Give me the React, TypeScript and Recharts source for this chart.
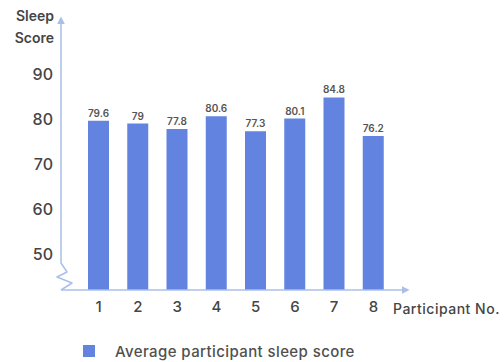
import { Bar, BarChart, LabelList, Legend, XAxis, YAxis, usePlotArea } from "recharts";

// Participant sleep scores, y axis broken below 50.

const participants = ["1", "2", "3", "4", "5", "6", "7", "8"];
const sleepScores = [79.6, 79, 77.8, 80.6, 77.3, 80.1, 84.8, 76.2];
const yTicks = [50, 60, 70, 80, 90];

const BLUE = "#6284e0";
const AXIS_BLUE = "#a9bfea";
const TEXT = "#454545";
const FONT = "Inter, 'Noto Sans', sans-serif";

const data = participants.map((p, i) => ({ participant: p, score: sleepScores[i] }));

// y axis drawn by hand so it can carry the zigzag break and the arrow
function BrokenYAxis() {
  const area = usePlotArea();
  if (!area) return null;
  const x = area.x;
  const bottom = area.y + area.height;
  const zig = [
    [0, 0],
    [11, -7],
    [-4, -13],
    [6, -18],
    [0, -27],
  ];
  const d =
    zig.map(([dx, dy], i) => `${i ? "L" : "M"}${x + dx},${bottom + dy}`).join(" ") +
    ` L${x},${area.y + 2}`;
  return (
    <path
      d={d}
      fill="none"
      stroke={AXIS_BLUE}
      strokeWidth={1.5}
      strokeLinejoin="round"
      markerEnd="url(#axisArrow)"
    />
  );
}

function YTitle(props: any) {
  const vb = props.viewBox || {};
  const x = vb.x + vb.width - 7;
  return (
    <text x={x} y={vb.y} textAnchor="end" fill={TEXT} fontSize={14} fontWeight={600} fontFamily={FONT}>
      <tspan x={x} dy={1}>Sleep</tspan>
      <tspan x={x} dy={22}>Score</tspan>
    </text>
  );
}

function XTitle(props: any) {
  const vb = props.viewBox || {};
  return (
    <text
      x={vb.x + vb.width - 11}
      y={vb.y + 24}
      fill={TEXT}
      fontSize={14}
      fontWeight={500}
      letterSpacing={0.5}
      fontFamily={FONT}
    >
      Participant No.
    </text>
  );
}

function LegendBox() {
  return (
    <div
      style={{
        display: "flex",
        alignItems: "center",
        height: 22,
        paddingLeft: 62,
        fontFamily: FONT,
        fontSize: 15,
        fontWeight: 500,
        letterSpacing: 0.4,
        color: "#505050",
      }}
    >
      <span style={{ width: 12, height: 12, background: BLUE, marginRight: 20 }} />
      <span>Average participant sleep score</span>
    </div>
  );
}

export default function App() {
  return (
    <div style={{ position: "absolute", left: 0, top: 0, background: "#fff" }}>
      <BarChart
        width={504}
        height={362}
        data={data}
        margin={{ top: 20, right: 100, left: 21, bottom: 0 }}
      >
        <defs>
          <marker
            id="axisArrow"
            viewBox="0 0 10 10"
            refX="3"
            refY="5"
            markerWidth="8"
            markerHeight="8"
            markerUnits="userSpaceOnUse"
            orient="auto-start-reverse"
          >
            <path d="M0,0 L10,5 L0,10 z" fill={AXIS_BLUE} />
          </marker>
        </defs>
        <XAxis
          dataKey="participant"
          height={50}
          padding={{ left: 18, right: 11 }}
          tickLine={false}
          axisLine={{ stroke: AXIS_BLUE, strokeWidth: 1.5, markerEnd: "url(#axisArrow)" } as any}
          tick={{ fill: TEXT, fontSize: 15, fontWeight: 500, fontFamily: FONT, dy: 3 } as any}
          label={<XTitle />}
        />
        <YAxis
          width={40}
          domain={[42, 102]}
          ticks={yTicks}
          allowDataOverflow
          tickLine={false}
          axisLine={false}
          tick={{ fill: TEXT, fontSize: 16, fontWeight: 500, fontFamily: FONT }}
          label={<YTitle />}
        />
        <BrokenYAxis />
        <Bar dataKey="score" fill={BLUE} barSize={21} isAnimationActive={false}>
          <LabelList
            dataKey="score"
            position="top"
            offset={4}
            fill="#555"
            fontSize={10}
            fontWeight={600}
            fontFamily={FONT}
          />
        </Bar>
        <Legend verticalAlign="bottom" align="left" height={22} content={() => <LegendBox />} />
      </BarChart>
    </div>
  );
}
